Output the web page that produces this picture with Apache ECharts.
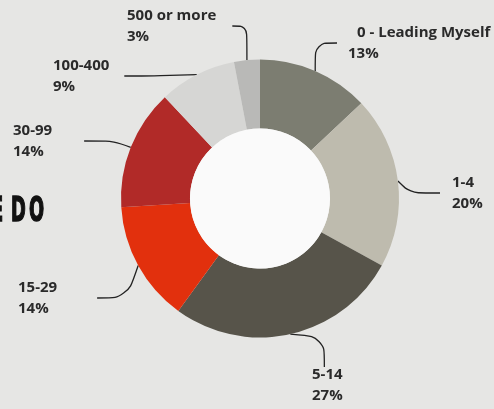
<!DOCTYPE html>
<html>
<head>
<meta charset="utf-8">
<script src="https://cdn.jsdelivr.net/npm/echarts@6/dist/echarts.min.js"></script>
<style>
  html, body { margin: 0; padding: 0; background: #e6e6e4; }
  #chart { width: 494px; height: 409px; }
</style>
</head>
<body>
<div id="chart"></div>
<script>
// 数据
const categories = ['0 - Leading Myself', '1-4', '5-14', '15-29', '30-99', '100-400', '500 or more']
const percents = [13, 20, 27, 14, 14, 9, 3]
const colors = ['#7c7d71', '#bebbae', '#57544a', '#e2300d', '#b12a28', '#d6d6d4', '#b9b9b7']
// label box top-left corners, and blank space kept between text and leader line
// [left of name, left of value, right of name]
const labelSpots = [[337, 22], [440, 172], [302, 364], [18, 277], [13, 120], [53, 55], [127, 5]]
const labelGaps = [[20, 11, 0], [12, 12, 0], [10, 10, 0], [0, 0, 40], [0, 0, 32], [0, 0, 15], [0, 0, 16]]

const textStyle = { fontFamily: 'Open Sans', fontWeight: 'bold', fontSize: 15, color: '#2a2a2a', lineHeight: 21 }

const pieData = []
for (let i = 0; i < categories.length; i++) {
  const g = labelGaps[i]
  pieData.push({
    name: categories[i],
    value: percents[i],
    itemStyle: { color: colors[i] },
    label: {
      rich: {
        n: textStyle,
        v: textStyle,
        a: { width: g[0], fontSize: 15, lineHeight: 21 },
        b: { width: g[1], fontSize: 15, lineHeight: 21 },
        c: { width: g[2], fontSize: 15, lineHeight: 21 }
      }
    }
  })
}

// cropped heading on the left edge
const letterStyle = {
  fontFamily: 'DejaVu Sans Condensed', fontWeight: 'bold', fontSize: 33,
  fill: '#111', stroke: '#111', lineWidth: 1.4, verticalAlign: 'middle'
}

const myChart = echarts.init(document.getElementById('chart'))
const options = {
  backgroundColor: '#e6e6e4',
  animation: false,
  graphic: [
    { type: 'text', x: -9, y: 212, scaleX: 0.6, style: Object.assign({ text: 'E' }, letterStyle) },
    { type: 'text', x: 11, y: 212, scaleX: 0.6, style: Object.assign({ text: 'D' }, letterStyle) },
    { type: 'text', x: 29, y: 212, scaleX: 0.6, style: Object.assign({ text: 'O' }, letterStyle) }
  ],
  series: [
    {
      type: 'pie',
      center: [260, 198.5],
      radius: [70, 139],
      startAngle: 90,
      clockwise: true,
      silent: true,
      data: pieData,
      label: {
        show: true,
        overflow: 'none',
        formatter: function (p) {
          return '{a| }{n|' + p.name + '}{c| }\n{b| }{v|' + p.value + '%}'
        }
      },
      labelLine: {
        show: true,
        smooth: 0.35,
        lineStyle: { color: '#222', width: 1.3 }
      },
      labelLayout: function (params) {
        const p = labelSpots[params.dataIndex]
        return { x: p[0], y: p[1], align: 'left', verticalAlign: 'top', hideOverlap: false }
      }
    },
    {
      type: 'pie',
      center: [260, 198.5],
      radius: [0, 70],
      silent: true,
      label: { show: false },
      labelLine: { show: false },
      data: [{ value: 1, itemStyle: { color: '#fafafa' } }]
    }
  ]
}
myChart.setOption(options)
window.onresize = myChart.resize
</script>
</body>
</html>
